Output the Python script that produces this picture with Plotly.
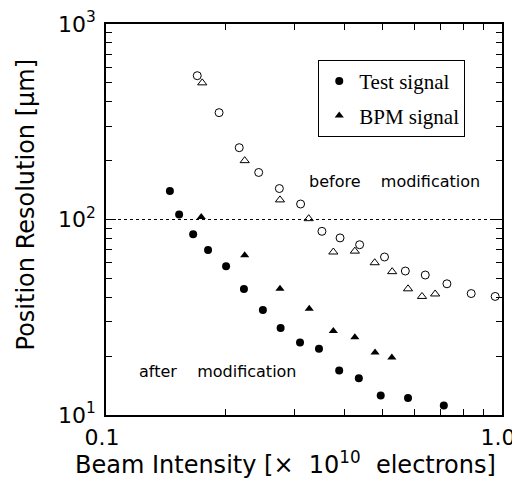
import plotly.graph_objects as go

# ---- data ----
before_test_x = [0.170, 0.193, 0.217, 0.243, 0.274, 0.310, 0.351, 0.390, 0.437, 0.505, 0.570, 0.640, 0.726, 0.836, 0.961]
before_test_y = [544, 352, 233, 174, 144, 120, 87, 80.5, 74.3, 64.3, 54.5, 52.0, 46.9, 41.8, 40.4]

before_bpm_x = [0.175, 0.224, 0.275, 0.325, 0.375, 0.425, 0.477, 0.528, 0.579, 0.628, 0.678]
before_bpm_y = [500, 200, 126, 101, 68.2, 68.9, 60.1, 54.1, 44.2, 40.4, 41.6]

after_test_x = [0.145, 0.153, 0.166, 0.181, 0.201, 0.223, 0.249, 0.276, 0.309, 0.345, 0.388, 0.435, 0.494, 0.579, 0.713]
after_test_y = [140, 106, 84, 69.8, 57.6, 44.1, 34.4, 27.9, 23.5, 21.8, 16.9, 15.4, 12.6, 12.2, 11.2]

after_bpm_x = [0.174, 0.224, 0.275, 0.326, 0.375, 0.425, 0.478, 0.527]
after_bpm_y = [103, 65.6, 44.3, 35.0, 26.9, 25.0, 20.9, 19.7]

reference_level = 100

x_tick_vals = [0.1, 1.0]
x_tick_text = ["0.1", "1.0"]
x_minor_vals = [0.2, 0.3, 0.4, 0.5, 0.6, 0.7, 0.8, 0.9]
y_tick_vals = [10, 100, 1000]
y_tick_text = ["10<sup>1</sup>", "10<sup>2</sup>", "10<sup>3</sup>"]
y_minor_vals = [20, 30, 40, 50, 60, 70, 80, 90, 200, 300, 400, 500, 600, 700, 800, 900]

SANS = "DejaVu Sans, Liberation Sans, Arial"
SERIF = "Liberation Serif, Times New Roman, serif"

fig = go.Figure()

fig.add_trace(go.Scatter(
    x=after_test_x, y=after_test_y, mode="markers", name="Test signal",
    legendgroup="a",
    marker=dict(symbol="circle", size=8, color="black"),
))
fig.add_trace(go.Scatter(
    x=after_bpm_x, y=after_bpm_y, mode="markers", name="BPM signal",
    legendgroup="b",
    marker=dict(symbol="triangle-up", size=8, color="black"),
))
fig.add_trace(go.Scatter(
    x=before_test_x, y=before_test_y, mode="markers", name="Test signal (before)",
    showlegend=False,
    marker=dict(symbol="circle-open", size=8, color="black", line=dict(width=1, color="black")),
))
fig.add_trace(go.Scatter(
    x=before_bpm_x, y=before_bpm_y, mode="markers", name="BPM signal (before)",
    showlegend=False,
    marker=dict(symbol="triangle-up-open", size=8, color="black", line=dict(width=1, color="black")),
))

fig.add_shape(type="line", xref="paper", yref="y", x0=0, x1=1,
              y0=reference_level, y1=reference_level,
              line=dict(color="black", width=1, dash="3px,3px"))

axis_common = dict(
    showline=True, linecolor="black", linewidth=1.5, mirror="ticks",
    ticks="inside", ticklen=10, tickwidth=1, tickcolor="black",
    showgrid=False, zeroline=False, automargin=False,
    tickfont=dict(family=SANS, size=22, color="black"),
)

fig.update_xaxes(
    type="log", range=[-1, 0],
    tickmode="array", tickvals=x_tick_vals, ticktext=x_tick_text,
    ticklabelstandoff=2, ticklabelshift=-4,
    minor=dict(ticks="inside", ticklen=6, tickwidth=1, tickcolor="black", tickvals=x_minor_vals, showgrid=False),
    **axis_common,
)
fig.update_yaxes(
    type="log", range=[1, 3],
    tickmode="array", tickvals=y_tick_vals, ticktext=y_tick_text,
    ticklabelstandoff=4,
    minor=dict(ticks="inside", ticklen=6, tickwidth=1, tickcolor="black", tickvals=y_minor_vals, showgrid=False),
    **axis_common,
)

ann = dict(xref="paper", yref="paper", showarrow=False, xanchor="center", yanchor="middle")

fig.add_annotation(text="before&nbsp;&nbsp;&nbsp;&nbsp;modification", x=0.729, y=0.598,
                   font=dict(family=SANS, size=16, color="black"), **ann)
fig.add_annotation(text="after&nbsp;&nbsp;&nbsp;&nbsp;modification", x=0.282, y=0.111,
                   font=dict(family=SANS, size=16, color="black"), **ann)

fig.add_annotation(text="Beam Intensity [&times;&nbsp;&nbsp;10<sup>10</sup>&nbsp;&nbsp;electrons]",
                   x=0.4536, y=-0.122,
                   font=dict(family=SANS, size=24, color="black"), **ann)
fig.add_annotation(text="Position Resolution [&mu;m]", x=-0.201, y=0.537, textangle=-90,
                   font=dict(family=SANS, size=24, color="black"), **ann)

# the page adds an 8px body margin, so the figure is sized/margined to compensate
fig.update_layout(
    width=512, height=481,
    margin=dict(l=98, r=18, t=16, b=74, autoexpand=False),
    paper_bgcolor="white", plot_bgcolor="white",
    showlegend=True,
    legend=dict(
        x=0.536, y=0.908, xanchor="left", yanchor="top",
        bordercolor="black", borderwidth=1, bgcolor="white",
        font=dict(family=SERIF, size=21, color="black"),
        traceorder="grouped", tracegroupgap=4,
    ),
)

fig.write_html("out.html")
